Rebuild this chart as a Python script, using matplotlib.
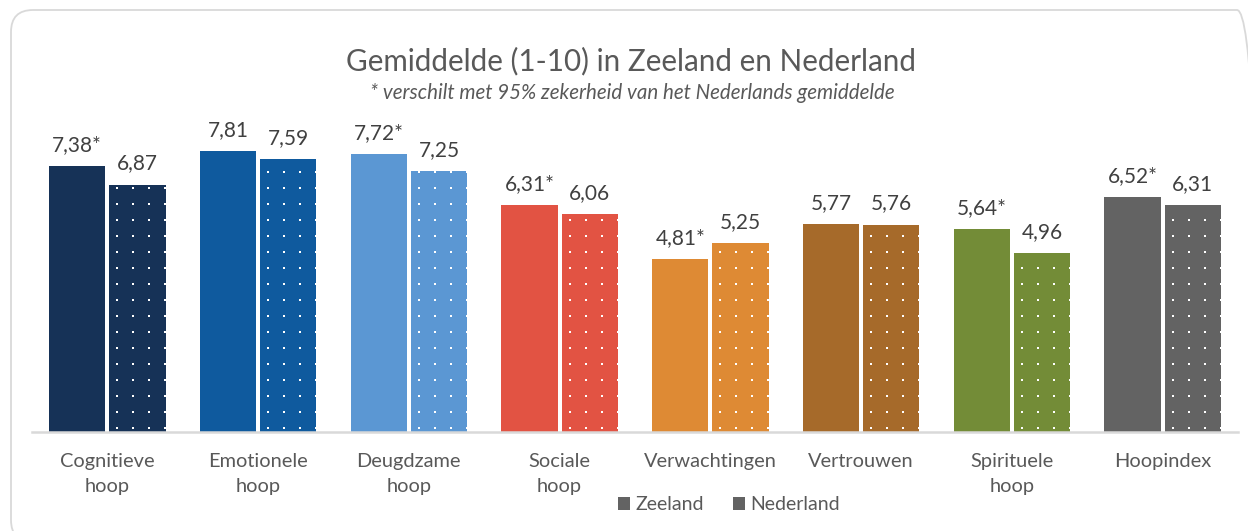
import numpy as np
import matplotlib
matplotlib.use("Agg")
import matplotlib.pyplot as plt
from matplotlib.patches import FancyBboxPatch, Patch
from matplotlib.transforms import IdentityTransform

categories = ["Cognitieve\nhoop", "Emotionele\nhoop", "Deugdzame\nhoop", "Sociale\nhoop",
              "Verwachtingen", "Vertrouwen", "Spirituele\nhoop", "Hoopindex"]
zeeland = [7.38, 7.81, 7.72, 6.31, 4.81, 5.77, 5.64, 6.52]
nederland = [6.87, 7.59, 7.25, 6.06, 5.25, 5.76, 4.96, 6.31]
zeeland_sig = [True, False, True, True, True, False, True, True]
colors = ["#163257", "#0F5A9E", "#5B97D3", "#E25343", "#DE8A34", "#A66A2A", "#738C37", "#636363"]

plt.rcParams['font.family'] = ['Lato', 'DejaVu Sans']

W, H, DPI = 1248, 531, 100
fig = plt.figure(figsize=(W / DPI, H / DPI), dpi=DPI)
fig.patch.set_facecolor("white")

# rounded border (pixel coordinates)
border = FancyBboxPatch((11, -11), 1248, 532, boxstyle="round,pad=0,rounding_size=22",
                        transform=IdentityTransform(), facecolor="none",
                        edgecolor="#D9D9D9", linewidth=1.3, zorder=0)
fig.add_artist(border)

ax_left, ax_right = 32, 1238
ax_bottom, ax_top = 432, 72
ax = fig.add_axes([ax_left / W, (H - ax_bottom) / H, (ax_right - ax_left) / W, (ax_bottom - ax_top) / H])
ax.set_xlim(-0.5, len(categories) - 0.5)
ax.set_ylim(0, 10)

x = np.arange(len(categories))
bw = 0.372
off = 0.2
bars_z = ax.bar(x - off, zeeland, width=bw, color=colors, zorder=2)
bars_n = ax.bar(x + off, nederland, width=bw, color=colors, zorder=2)

# dotted texture on Nederland bars (clipped to each bar)
px_x = (len(categories)) / (ax_right - ax_left)   # data units per pixel (x)
px_y = 10 / (ax_bottom - ax_top)                  # data units per pixel (y)
for b in bars_n:
    x0 = b.get_x()
    x1 = x0 + b.get_width()
    h = b.get_height()
    gx = np.arange(x0 + 8 * px_x, x1 + 2 * px_x, 16 * px_x)
    gy = np.arange(4 * px_y, h, 16 * px_y)
    GX, GY = np.meshgrid(gx, gy)
    sc = ax.scatter(GX.ravel(), GY.ravel(), s=2.2, marker='s', c="white", linewidths=0, zorder=3)
    sc.set_clip_path(b)

# value labels
for i in range(len(categories)):
    lz = f"{zeeland[i]:.2f}".replace(".", ",") + ("*" if zeeland_sig[i] else "")
    ln = f"{nederland[i]:.2f}".replace(".", ",")
    ax.annotate(lz, (x[i] - off, zeeland[i]), xytext=(0, 8), textcoords="offset points",
                ha="center", va="bottom", fontsize=15, color="#404040")
    ax.annotate(ln, (x[i] + off, nederland[i]), xytext=(0, 8), textcoords="offset points",
                ha="center", va="bottom", fontsize=15, color="#404040")

for s in ["top", "right", "left"]:
    ax.spines[s].set_visible(False)
ax.spines["bottom"].set_color("#D9D9D9")
ax.spines["bottom"].set_linewidth(1.8)
ax.set_yticks([])
ax.set_xticks(x)
ax.set_xticklabels(categories, fontsize=14.4, color="#595959", linespacing=1.55)
ax.tick_params(axis="x", length=0, pad=15)

fig.text(631 / W, (H - 61) / H, "Gemiddelde (1-10) in Zeeland en Nederland",
         ha="center", va="center", fontsize=21.3, color="#595959")
fig.text(632 / W, (H - 93) / H, "* verschilt met 95% zekerheid van het Nederlands gemiddelde",
         ha="center", va="center", fontsize=14.8, color="#595959", style="italic")

handles = [Patch(facecolor="#636363", edgecolor="none", label="Zeeland"),
           Patch(facecolor="#636363", edgecolor="none", label="Nederland")]
fig.legend(handles=handles, loc="center", bbox_to_anchor=(729 / W, (H - 505) / H), ncol=2,
           frameon=False, fontsize=14, labelcolor="#595959", handlelength=0.6,
           handleheight=0.6, handletextpad=0.3, columnspacing=1.5)

fig.savefig("out.png", dpi=DPI, facecolor="white")
